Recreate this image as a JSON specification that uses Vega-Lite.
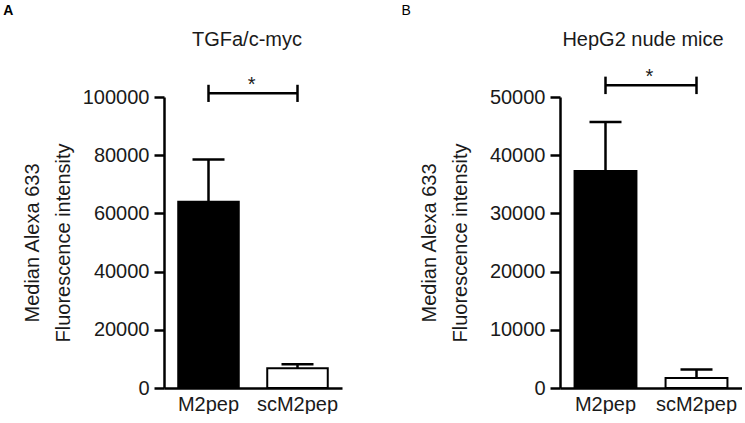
{
  "$schema": "https://vega.github.io/schema/vega-lite/v6.json",
  "padding": {"left": 3, "top": 4, "right": 0, "bottom": 0},
  "background": "white",
  "config": {
    "font": "Liberation Sans",
    "view": {"stroke": null},
    "axis": {
      "domainColor": "black", "domainWidth": 2.5,
      "tickColor": "black", "tickWidth": 2.5, "tickSize": 10,
      "labelColor": "#1a1a1a", "labelFontSize": 20, "labelPadding": 5,
      "titleColor": "#1a1a1a", "titleFontSize": 20, "titleFontWeight": "normal",
      "grid": false
    },
    "title": {"color": "#1a1a1a"}
  },
  "datasets": {
    "a": [
      {"group": "M2pep", "value": 64000, "upper": 78500},
      {"group": "scM2pep", "value": 6800, "upper": 8200}
    ],
    "abr": [
      {"group": "M2pep", "y": 101300, "lo": 98300, "hi": 104200},
      {"group": "scM2pep", "y": 101300, "lo": 98300, "hi": 104200}
    ],
    "astar": [{"group": "M2pep", "y": 101300, "label": "*"}],
    "b": [
      {"group": "M2pep", "value": 37300, "upper": 45700},
      {"group": "scM2pep", "value": 1700, "upper": 3200}
    ],
    "bbr": [
      {"group": "M2pep", "y": 52000, "lo": 50500, "hi": 53500},
      {"group": "scM2pep", "y": 52000, "lo": 50500, "hi": 53500}
    ],
    "bstar": [{"group": "M2pep", "y": 52000, "label": "*"}]
  },
  "spacing": 59,
  "hconcat": [
    {
      "title": {"text": "A", "anchor": "start", "frame": "bounds", "fontSize": 14, "fontWeight": "bold", "color": "black", "dx": -19, "offset": 12},
      "vconcat": [
        {
          "width": 178, "height": 291,
          "title": {"text": "TGFa/c-myc", "fontSize": 20, "fontWeight": "normal", "offset": 25, "dx": -6},
          "encoding": {
            "x": {"field": "group", "type": "nominal", "sort": ["M2pep", "scM2pep"],
                  "scale": {"paddingInner": 0.32, "paddingOuter": 0.16},
                  "axis": {"title": null, "labelAngle": 0, "ticks": false, "labelPadding": 6, "labelFontSize": 20}}
          },
          "layer": [
            {
              "data": {"name": "a"},
              "mark": {"type": "bar", "stroke": "black", "strokeWidth": 2},
              "encoding": {
                "y": {"field": "value", "type": "quantitative",
                      "scale": {"domain": [0, 100000], "nice": false},
                      "axis": {"values": [0, 20000, 40000, 60000, 80000, 100000], "format": "d",
                               "labelFontSize": 20, "titleFontSize": 20,
                               "title": ["Median Alexa 633", "Fluorescence intensity"],
                               "titleLineHeight": 31, "titlePadding": 9}},
                "color": {"field": "group", "type": "nominal",
                          "scale": {"domain": ["M2pep", "scM2pep"], "range": ["black", "white"]}, "legend": null}
              }
            },
            {
              "data": {"name": "a"},
              "mark": {"type": "rule", "color": "black", "strokeWidth": 2.5},
              "encoding": {"y": {"field": "value", "type": "quantitative"}, "y2": {"field": "upper"}}
            },
            {
              "data": {"name": "a"},
              "mark": {"type": "tick", "color": "black", "size": 32, "thickness": 2.5, "opacity": 1},
              "encoding": {"y": {"field": "upper", "type": "quantitative"}}
            },
            {
              "data": {"name": "abr"},
              "mark": {"type": "line", "color": "black", "strokeWidth": 2.5},
              "encoding": {"y": {"field": "y", "type": "quantitative"}}
            },
            {
              "data": {"name": "abr"},
              "mark": {"type": "rule", "color": "black", "strokeWidth": 2.5},
              "encoding": {"y": {"field": "lo", "type": "quantitative"}, "y2": {"field": "hi"}}
            },
            {
              "data": {"name": "astar"},
              "mark": {"type": "text", "fontSize": 20, "color": "#1a1a1a", "dx": 13, "dy": -2, "baseline": "alphabetic"},
              "encoding": {
                "x": {"field": "group", "type": "nominal", "bandPosition": 1},
                "y": {"field": "y", "type": "quantitative"},
                "text": {"field": "label"}
              }
            }
          ]
        }
      ]
    },
    {
      "title": {"text": "B", "anchor": "start", "frame": "bounds", "fontSize": 14, "fontWeight": "normal", "color": "black", "dx": -18, "offset": 12},
      "vconcat": [
        {
          "width": 182, "height": 291,
          "title": {"text": "HepG2  nude  mice", "fontSize": 20, "fontWeight": "normal", "offset": 17, "dx": -8},
          "encoding": {
            "x": {"field": "group", "type": "nominal", "sort": ["M2pep", "scM2pep"],
                  "scale": {"paddingInner": 0.32, "paddingOuter": 0.16},
                  "axis": {"title": null, "labelAngle": 0, "ticks": false, "labelPadding": 6, "labelFontSize": 20}}
          },
          "layer": [
            {
              "data": {"name": "b"},
              "mark": {"type": "bar", "stroke": "black", "strokeWidth": 2},
              "encoding": {
                "y": {"field": "value", "type": "quantitative",
                      "scale": {"domain": [0, 50000], "nice": false},
                      "axis": {"values": [0, 10000, 20000, 30000, 40000, 50000], "format": "d",
                               "labelFontSize": 20, "titleFontSize": 20,
                               "title": ["Median Alexa 633", "Fluorescence intensity"],
                               "titleLineHeight": 31, "titlePadding": 19}},
                "color": {"field": "group", "type": "nominal",
                          "scale": {"domain": ["M2pep", "scM2pep"], "range": ["black", "white"]}, "legend": null}
              }
            },
            {
              "data": {"name": "b"},
              "mark": {"type": "rule", "color": "black", "strokeWidth": 2.5},
              "encoding": {"y": {"field": "value", "type": "quantitative"}, "y2": {"field": "upper"}}
            },
            {
              "data": {"name": "b"},
              "mark": {"type": "tick", "color": "black", "size": 32, "thickness": 2.5, "opacity": 1},
              "encoding": {"y": {"field": "upper", "type": "quantitative"}}
            },
            {
              "data": {"name": "bbr"},
              "mark": {"type": "line", "color": "black", "strokeWidth": 2.5},
              "encoding": {"y": {"field": "y", "type": "quantitative"}}
            },
            {
              "data": {"name": "bbr"},
              "mark": {"type": "rule", "color": "black", "strokeWidth": 2.5},
              "encoding": {"y": {"field": "lo", "type": "quantitative"}, "y2": {"field": "hi"}}
            },
            {
              "data": {"name": "bstar"},
              "mark": {"type": "text", "fontSize": 20, "color": "#1a1a1a", "dx": 13, "dy": -2, "baseline": "alphabetic"},
              "encoding": {
                "x": {"field": "group", "type": "nominal", "bandPosition": 1},
                "y": {"field": "y", "type": "quantitative"},
                "text": {"field": "label"}
              }
            }
          ]
        }
      ]
    }
  ]
}
